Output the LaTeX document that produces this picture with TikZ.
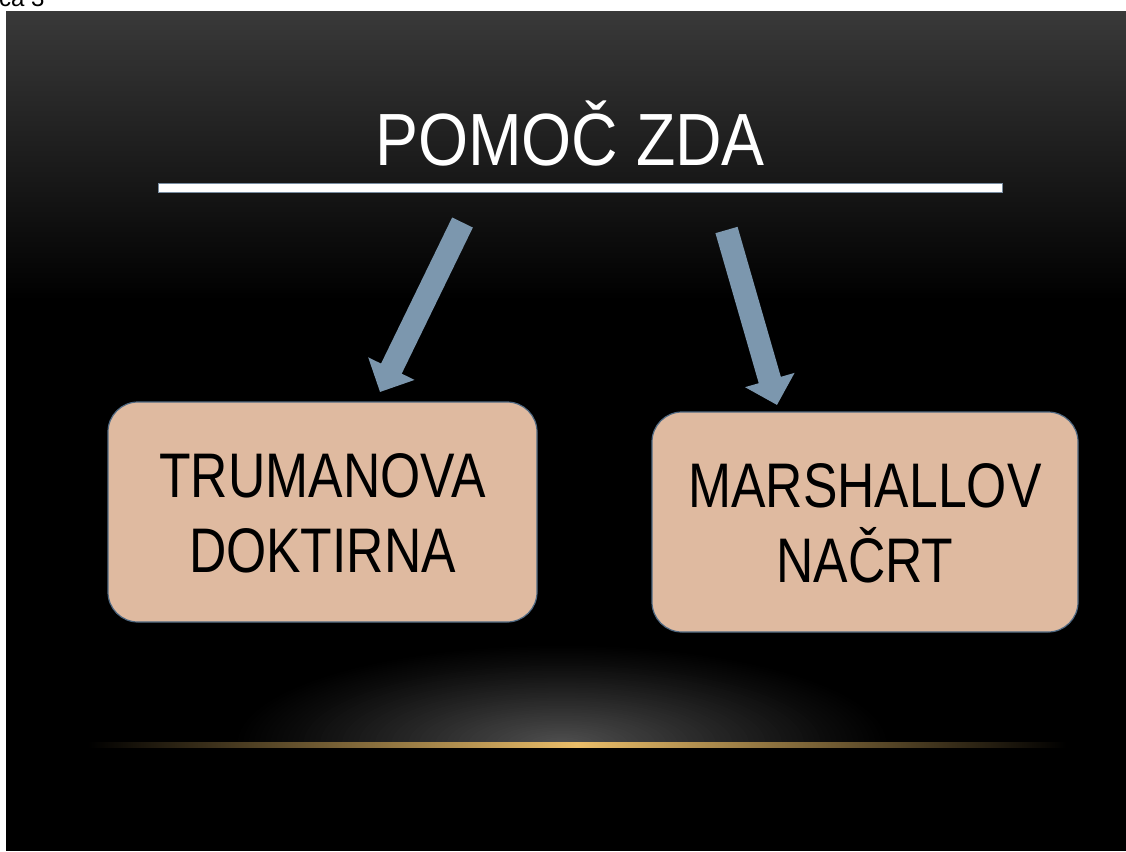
\documentclass[tikz,border=0pt]{standalone}
\usepackage{fontspec}
\setmainfont{Liberation Sans}
\newfontfamily\narrowfont[FakeStretch=0.82]{Liberation Sans}
\newfontfamily\titlefont[FakeStretch=0.87]{Liberation Sans}
\usetikzlibrary{arrows.meta}
\definecolor{bgtop}{RGB}{57,57,57}
\definecolor{boxfill}{RGB}{223,186,160}
\definecolor{boxline}{RGB}{80,105,130}
\definecolor{arrowc}{RGB}{124,151,174}
\definecolor{glowc}{RGB}{80,80,80}
\definecolor{goldc}{RGB}{235,190,105}
\definecolor{rulec}{RGB}{120,140,160}
\tikzset{
  boxst/.style={rectangle, rounded corners=30pt, fill=boxfill, draw=boxline, line width=1.2pt,
    minimum width=#1, minimum height=220pt, inner sep=0pt, align=center,
    text height=120pt, text depth=0pt, text=black,
    font=\narrowfont\fontsize{63}{75}\selectfont},
  arrowst/.style={draw=arrowc, line width=23pt, line cap=butt,
    -{Triangle[width=50pt,length=26pt]}},
  titlest/.style={text=white, inner sep=0pt, font=\titlefont\fontsize{74}{80}\selectfont},
}
\begin{document}
\begin{tikzpicture}[x=1pt,y=-1pt]
\useasboundingbox (0,0) rectangle (1126,851);
\fill[white] (0,0) rectangle (1126,851);
% slide background
\fill[black] (6,12) rectangle (1126,851);
\shade[top color=bgtop, bottom color=black] (6,12) rectangle (1126,300);
% bottom glow
\begin{scope}
  \clip (6,600) rectangle (1126,744);
  \foreach \k in {0,...,59}{
    \pgfmathsetmacro{\r}{1-\k/60}
    \pgfmathsetmacro{\p}{100*(\k/60)^1.15}
    \fill[glowc!\p!black] (562,744) ellipse [x radius=330*\r, y radius=100*\r];
  }
\end{scope}
\shade[left color=black, right color=black, middle color=goldc] (88,742) rectangle (1066,747);
% cut caption
\node[anchor=base west, inner sep=0pt, text=black, font=\fontsize{24}{28}\selectfont] (cap) at (-1,7) {ca 3};
% title and rule
\node[titlest, anchor=base] (title) at (570,165) {POMOČ ZDA};
\node[rectangle, fill=white, draw=rulec, line width=0.8pt, minimum width=844pt, minimum height=9pt, inner sep=0pt] (rule) at (580,188) {};
% boxes
\node[boxst=429pt] (truman) at (322.5,512) {TRUMANOVA\\DOKTIRNA};
\node[boxst=426pt] (marshall) at (865,522) {MARSHALLOV\\NAČRT};
% arrows
\coordinate (a1s) at (462.5,222.5);
\coordinate (a1t) at (380,392);
\coordinate (a2s) at (726.5,230);
\coordinate (a2t) at (777,405);
\draw[arrowst] (a1s) -- (a1t);
\draw[arrowst] (a2s) -- (a2t);
\end{tikzpicture}
\end{document}
